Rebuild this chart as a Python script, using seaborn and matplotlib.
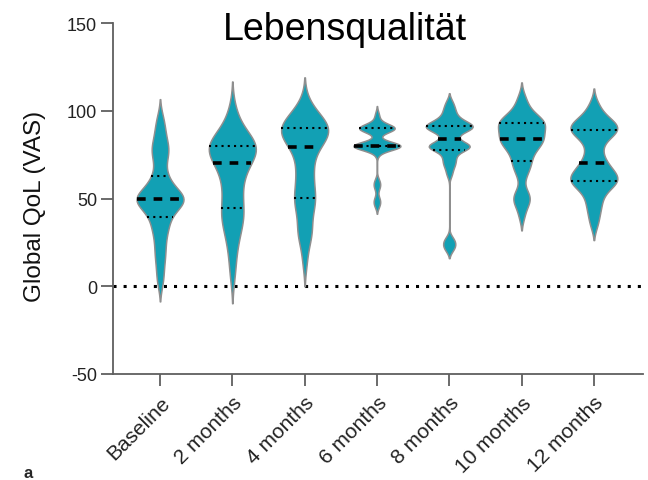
import numpy as np
import pandas as pd
import matplotlib.pyplot as plt
import seaborn as sns

# Categories and observations (Global QoL VAS per visit)
categories = ['Baseline', '2 months', '4 months', '6 months', '8 months', '10 months', '12 months']

baseline = [2, 8, 14, 18, 22, 26, 30, 33, 35, 37,
            40, 42, 44, 45, 46, 47, 48, 49, 50, 50,
            50, 50, 51, 52, 53, 54, 56, 58, 60, 62,
            65, 70, 74, 76, 78, 80, 83, 87, 91, 96]
month_2 = [6, 15, 22, 27, 31, 34, 37, 39, 41, 43,
           45, 48, 51, 54, 57, 60, 62, 65, 67, 69,
           71, 72, 74, 75, 76, 77, 78, 79, 79, 80,
           80, 81, 82, 83, 84, 86, 88, 91, 95, 101]
month_4 = [14, 24, 29, 31, 33, 38, 43, 46, 48, 49,
           51, 54, 57, 60, 63, 66, 69, 72, 75, 78,
           81, 82, 83, 84, 85, 86, 87, 88, 89, 90,
           90, 91, 92, 93, 94, 95, 96, 98, 101, 105]
month_6 = [46, 48, 50, 56, 58, 60, 76, 80, 80, 80,
           80, 80, 80, 80, 80, 80, 80, 80, 80, 80,
           80, 80, 80, 80, 86, 90, 90, 90, 90, 90,
           90, 90, 90, 90, 90, 90, 90, 92, 95, 98]
month_8 = [21, 23, 25, 27, 64, 68, 70, 72, 74, 76,
           78, 79, 79, 80, 80, 80, 80, 80, 81, 83,
           85, 87, 88, 89, 90, 90, 91, 91, 91, 91,
           92, 92, 93, 94, 95, 96, 98, 100, 102, 105]
month_10 = [40, 46, 48, 50, 52, 54, 62, 66, 68, 70,
            72, 74, 76, 78, 79, 80, 81, 82, 83, 84,
            84, 85, 86, 87, 88, 89, 90, 91, 92, 93,
            93, 94, 94, 95, 96, 97, 99, 101, 104, 108]
month_12 = [35, 40, 44, 47, 50, 53, 55, 57, 58, 59,
            60, 60, 61, 62, 63, 64, 65, 66, 68, 69,
            71, 73, 76, 79, 82, 85, 86, 87, 88, 89,
            90, 90, 91, 92, 93, 94, 95, 97, 100, 104]

series = [baseline, month_2, month_4, month_6, month_8, month_10, month_12]

# smoothing per violin
bw_adjust = [0.5, 0.7, 0.6, 0.38, 0.25, 0.5, 0.5]

df = pd.concat([pd.DataFrame({'Visit': c, 'QoL': v}) for c, v in zip(categories, series)],
               ignore_index=True)

sns.set_theme(style='ticks')
plt.rcParams['font.family'] = ['Liberation Sans', 'DejaVu Sans']
plt.rcParams['axes.unicode_minus'] = False

fig = plt.figure(figsize=(6.48, 4.81), dpi=100)
ax = fig.add_axes([0.1744, 0.2204, 0.8179, 0.7296])

fill_color = '#12a0b4'
edge_color = '#8f8f8f'

for cat, bw in zip(categories, bw_adjust):
    sns.violinplot(data=df[df['Visit'] == cat], x='Visit', y='QoL', order=categories,
                   color=fill_color, saturation=1, linecolor=edge_color, linewidth=1.1,
                   width=0.65, density_norm='width', cut=2, bw_adjust=bw,
                   inner='quart', inner_kws=dict(color='black'), ax=ax)
    q1, med, q3 = ax.lines[-3:]
    for q in (q1, q3):
        q.set_linewidth(1.5)
        q.set_dashes((1, 2))
    med.set_linewidth(2.6)
    med.set_dashes((2.4, 2.2))

ax.axhline(0, color='black', linewidth=2.2, linestyle=(0, (1, 2.3)), zorder=0)

ax.set_ylim(-50, 150)
ax.set_xlim(-0.65, 6.68)
ax.set_yticks([-50, 0, 50, 100, 150])
ax.set_xlabel('')
ax.set_ylabel('Global QoL (VAS)', fontsize=17.5, color='#111111')
ax.yaxis.set_label_coords(-0.126, 0.48)

sns.despine(ax=ax)
for side in ('left', 'bottom'):
    ax.spines[side].set_color('#5f5f5f')
    ax.spines[side].set_linewidth(1.3)
ax.tick_params(axis='both', length=8.5, width=1.3, color='#5f5f5f', labelcolor='#222222')
ax.tick_params(axis='y', labelsize=13, pad=3)
ax.tick_params(axis='x', labelsize=15, pad=5)
plt.setp(ax.get_xticklabels(), rotation=45, ha='right', rotation_mode='anchor')

fig.text(0.532, 0.917, 'Lebensqualität', fontsize=27, color='black', ha='center', va='baseline')
fig.text(0.037, 0.0, 'a', fontsize=12, fontweight='bold', ha='left', va='bottom')

fig.savefig('out.png', dpi=100)
